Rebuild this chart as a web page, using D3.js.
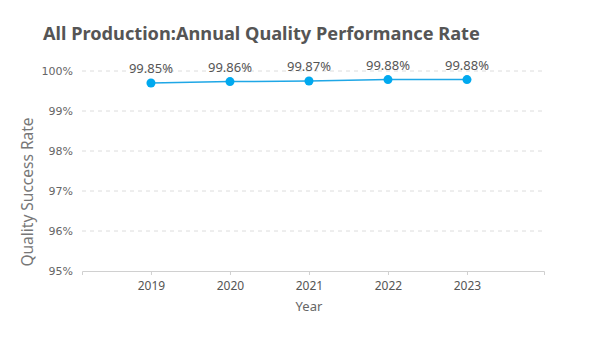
<!DOCTYPE html>
<html><head><meta charset="utf-8">
<script src="https://cdn.jsdelivr.net/npm/d3@7"></script>
<style>body{margin:0;background:#fff}</style>
</head><body>
<svg id="c" width="593" height="339"></svg>
<script>
const years = [2019, 2020, 2021, 2022, 2023];
const plotted = [99.70, 99.735, 99.75, 99.785, 99.785];
const labels = ["99.85%", "99.86%", "99.87%", "99.88%", "99.88%"];
const yTicks = [95, 96, 97, 98, 99, 100];
const title = "All Production:Annual Quality Performance Rate";

const svg = d3.select("#c");
const L = 82, R = 544, T = 71, B = 271;
const x = d3.scaleLinear().domain([2018.127, 2023.975]).range([L, R]);
const y = d3.scaleLinear().domain([95, 100]).range([B, T]);

svg.append("text").attr("x", 43).attr("y", 40).text(title)
  .attr("font-family", "Noto Sans").attr("font-weight", 700).attr("font-size", 18.2).attr("fill", "#555");

// grid
svg.append("g").selectAll("line").data(yTicks.filter(d => d !== 95)).join("line")
  .attr("x1", L).attr("x2", R).attr("y1", d => y(d)).attr("y2", d => y(d))
  .attr("stroke", "#dcdcdc").attr("stroke-dasharray", "4,4");

// y axis labels
const ya = svg.append("g").attr("transform", `translate(${L},0)`)
  .call(d3.axisLeft(y).tickValues(yTicks).tickFormat(d => d + "%").tickSize(0).tickPadding(9));
ya.select(".domain").remove();
ya.selectAll("text").attr("font-family", "DejaVu Sans").attr("font-size", 11).attr("fill", "#666");

// x axis
const xa = svg.append("g").attr("transform", `translate(0,${B})`)
  .call(d3.axisBottom(x).tickValues(years).tickFormat(d3.format("d")).tickSize(4).tickPadding(6));
xa.select(".domain").attr("stroke", "#d0d0d0");
xa.selectAll(".tick line").attr("stroke", "#d0d0d0");
xa.selectAll("text").attr("font-family", "Noto Sans").attr("font-size", 12).attr("fill", "#555");

svg.append("text").attr("x", x(2021)).attr("y", 311).attr("text-anchor", "middle").text("Year")
  .attr("font-family", "Noto Sans").attr("font-size", 13).attr("fill", "#666");
svg.append("text").attr("transform", `translate(33,192) rotate(-90)`).attr("text-anchor", "middle")
  .text("Quality Success Rate").attr("font-family", "Noto Sans").attr("font-size", 15.5).attr("fill", "#777");

const pts = years.map((d, i) => ({ yr: d, v: plotted[i], lab: labels[i] }));
svg.append("path").datum(pts)
  .attr("d", d3.line().x(d => x(d.yr)).y(d => y(d.v)))
  .attr("fill", "none").attr("stroke", "#1fa7e6").attr("stroke-width", 1.5);
svg.append("g").selectAll("circle").data(pts).join("circle")
  .attr("cx", d => x(d.yr)).attr("cy", d => y(d.v)).attr("r", 4.5).attr("fill", "#00a9ef");
svg.append("g").selectAll("text").data(pts).join("text")
  .attr("x", d => x(d.yr)).attr("y", d => y(d.v) - 10).attr("text-anchor", "middle").text(d => d.lab)
  .attr("font-family", "Noto Sans").attr("font-size", 13).attr("fill", "#555");
</script>
</body></html>
